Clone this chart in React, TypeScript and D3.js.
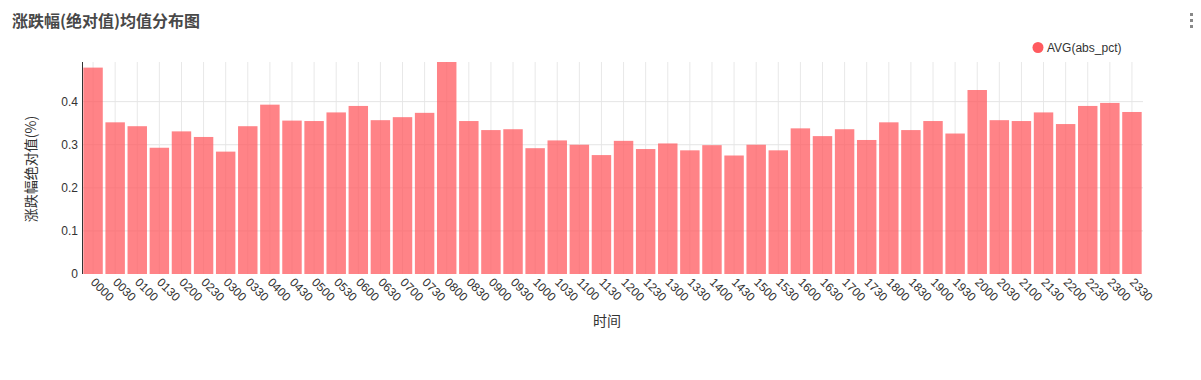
import React from "react";
import * as d3 from "d3";

const categories = [
  "0000","0030","0100","0130","0200","0230","0300","0330","0400","0430","0500","0530",
  "0600","0630","0700","0730","0800","0830","0900","0930","1000","1030","1100","1130",
  "1200","1230","1300","1330","1400","1430","1500","1530","1600","1630","1700","1730",
  "1800","1830","1900","1930","2000","2030","2100","2130","2200","2230","2300","2330",
];
const values = [
  0.479,0.352,0.343,0.293,0.331,0.318,0.284,0.343,0.393,0.356,0.355,0.375,
  0.390,0.357,0.364,0.374,0.492,0.355,0.334,0.336,0.292,0.310,0.300,0.276,
  0.309,0.290,0.303,0.287,0.299,0.275,0.300,0.287,0.338,0.320,0.336,0.311,
  0.352,0.334,0.355,0.326,0.427,0.357,0.355,0.375,0.348,0.390,0.397,0.376,
];
const yTicks = [0, 0.1, 0.2, 0.3, 0.4];
const title = "涨跌幅(绝对值)均值分布图";
const seriesName = "AVG(abs_pct)";
const yLabel = "涨跌幅绝对值(%)";
const xLabel = "时间";

const W = 1201, H = 380;
const left = 82, right = 1143, top = 62, bottom = 274;
const font = "'Liberation Sans', Arial, 'Noto Sans CJK SC', sans-serif";

export default function App() {
  const x = d3.scaleBand<string>().domain(categories).range([left, right]).paddingInner(0.12).paddingOuter(0.06);
  const y = d3.scaleLinear().domain([0, d3.max(values) as number]).range([bottom, top]);
  const fmt = (v: number) => (v === 0 ? "0" : d3.format(".1f")(v));
  return (
    <svg width={W} height={H} style={{ position: "absolute", left: 0, top: 0, fontFamily: font }}>
      <rect width={W} height={H} fill="#fff" />
      <text x={12} y={27} fontSize={16} fontWeight="bold" fill="#484848" fontFamily="'Noto Sans CJK SC', sans-serif">{title}</text>
      {[14.5, 20.5, 26.5].map((cy) => (
        <rect key={cy} x={1190} y={cy - 1.5} width={3} height={3} fill="#888" />
      ))}
      <circle cx={1038} cy={47.5} r={5.5} fill="#ff5a5f" />
      <text x={1047} y={52} fontSize={12} fill="#333">{seriesName}</text>
      {/* gridlines */}
      {categories.map((c) => {
        const cx = (x(c) as number) + x.bandwidth() / 2;
        return <line key={"g" + c} x1={cx} x2={cx} y1={top} y2={bottom} stroke="#e8e8e8" strokeWidth={1} />;
      })}
      {yTicks.filter((t) => t > 0).map((t) => (
        <line key={"h" + t} x1={left} x2={right} y1={y(t)} y2={y(t)} stroke="#e5e5e5" strokeWidth={1} />
      ))}
      {/* bars */}
      {categories.map((c, i) => (
        <rect key={"b" + c} x={x(c)} y={y(values[i])} width={x.bandwidth()} height={bottom - y(values[i])} fill="#ff5a5f" fillOpacity={0.75} />
      ))}
      {/* y axis */}
      <line x1={left + 0.5} x2={left + 0.5} y1={top} y2={bottom} stroke="#333" strokeWidth={1} />
      {yTicks.map((t) => (
        <text key={"yt" + t} x={78} y={y(t) + 4} fontSize={12} fill="#333" textAnchor="end">{fmt(t)}</text>
      ))}
      <text transform={`translate(36,169) rotate(-90)`} fontSize={14} fill="#333" textAnchor="middle" fontFamily="'Noto Sans CJK SC', sans-serif">{yLabel}</text>
      {/* x ticks */}
      {categories.map((c) => {
        const cx = (x(c) as number) + x.bandwidth() / 2;
        return (
          <text key={"xt" + c} transform={`translate(${cx - 3},${bottom + 9}) rotate(45)`} fontSize={12} fill="#333">{c}</text>
        );
      })}
      <text x={607} y={326} fontSize={14} fill="#333" textAnchor="middle" fontFamily="'Noto Sans CJK SC', sans-serif">{xLabel}</text>
    </svg>
  );
}
